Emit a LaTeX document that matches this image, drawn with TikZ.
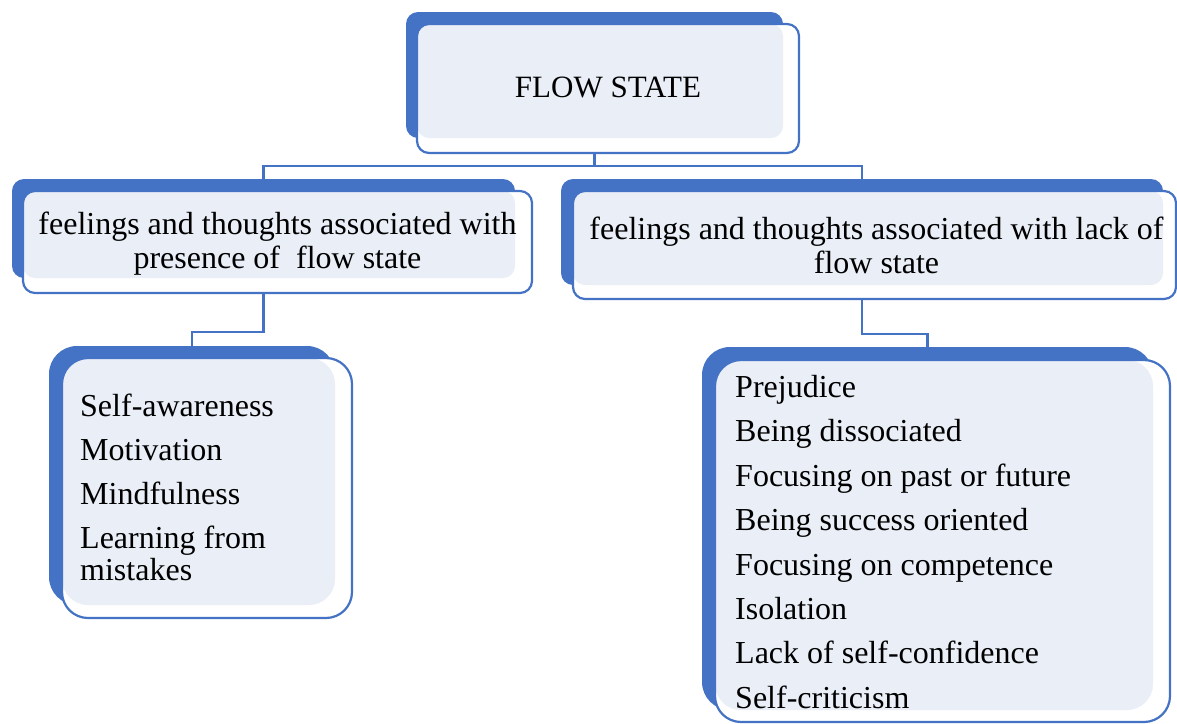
\documentclass[tikz,border=0pt]{standalone}
\usepackage{fontspec}
\setmainfont{Liberation Serif}
\usetikzlibrary{positioning,backgrounds,calc}
\definecolor{boxblue}{RGB}{68,114,196}
\definecolor{boxlight}{RGB}{233,238,247}

% front frame of a box: #2 back node, #3 front NW, #4 front SE
\newcommand{\frontbox}[4][12pt]{%
  \fill[white, rounded corners=#1] (#3) rectangle (#4);
  \fill[boxlight, rounded corners=#1] (#3) rectangle (#2.south east);
  \draw[boxblue, line width=2.2pt, rounded corners=#1] (#3) rectangle (#4);
}

\begin{document}
\begin{tikzpicture}[
    x=1pt, y=-1pt,
    backbox/.style={rectangle, fill=boxblue, rounded corners=12pt, inner sep=0pt, outer sep=0pt},
    heading/.style={font=\fontsize{32}{34}\selectfont, align=center, inner sep=0pt, anchor=north},
    itemlist/.style={align=left, inner sep=0pt, anchor=north west},
    link/.style={draw=boxblue, line width=2.4pt}
]

\useasboundingbox (0,0) rectangle (1177,723);

% Top box
\node[backbox, minimum width=377pt, minimum height=126pt] (flow) at (594.5,75) {};
\frontbox{flow}{417,24}{799,153}
\node[font=\fontsize{31}{34}\selectfont, inner sep=0pt, anchor=north] (flowtext) at (608,76.5) {FLOW STATE};

% Second level
\node[backbox, minimum width=503pt, minimum height=99pt] (present) at (263.5,228.5) {};
\frontbox{present}{23,191}{532,293}
\node[heading] (presenttext) at (277.5,212) {feelings and thoughts associated with\\presence of~ flow state};

\node[backbox, minimum width=602pt, minimum height=106pt] (absent) at (862,232) {};
\frontbox{absent}{573,191}{1176,299}
\node[heading] (absenttext) at (876.5,217) {feelings and thoughts associated with lack of\\flow state};

% Third level
\node[backbox, rounded corners=28pt, minimum width=286pt, minimum height=259pt] (presentlist) at (192,475.5) {};
\frontbox[26pt]{presentlist}{62,358}{352,618}
\node[itemlist, font=\fontsize{32}{32}\selectfont] (presentitems) at (80,394) {Self-awareness\\[12pt]
    Motivation\\[12pt]
    Mindfulness\\[12pt]
    Learning from\\mistakes};

\node[backbox, rounded corners=28pt, minimum width=451pt, minimum height=363pt] (absentlist) at (927.5,528.5) {};
\frontbox[26pt]{absentlist}{715,360}{1170,722}
\node[itemlist, font=\fontsize{32}{44.4}\selectfont] (absentitems) at (735,375) {Prejudice\\
    Being dissociated\\
    Focusing on past or future\\
    Being success oriented\\
    Focusing on competence\\
    Isolation\\
    Lack of self-confidence\\
    Self-criticism};

% Connectors
\begin{scope}[on background layer]
\draw[link] (flow.south) -- ++(0,28) -| (present.north);
\draw[link] (flow.south) -- ++(0,28) -| (absent.north);
\draw[link] (present.south) -- ++(0,54) -| (presentlist.north);
\draw[link] (absent.south) -- ++(0,49) -| (absentlist.north);
\end{scope}

\end{tikzpicture}
\end{document}
